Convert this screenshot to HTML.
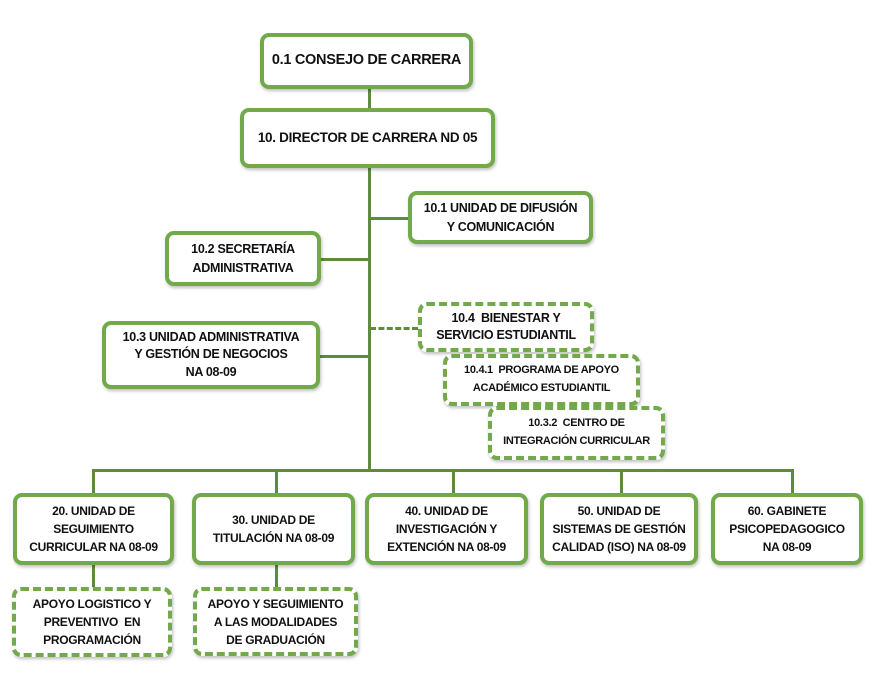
<!DOCTYPE html>
<html><head><meta charset="utf-8"><style>
body{margin:0;width:880px;height:677px;background:#fff;position:relative;overflow:hidden;font-family:"Liberation Sans",sans-serif;}
.b{position:absolute;box-sizing:border-box;border:4px solid #72a94a;border-radius:9px;background:#fff;display:flex;align-items:center;justify-content:center;text-align:center;font-weight:bold;color:#111;font-size:12px;line-height:1.5;letter-spacing:-0.3px;box-shadow:1px 2px 3px rgba(0,0,0,0.25);}
.d{border-style:dashed;}
.l{position:absolute;background:#5e8c3c;}
</style></head><body>
<div class="l" style="left:368px;top:89px;width:3px;height:382px"></div>
<div class="l" style="left:369px;top:217px;width:40px;height:3px"></div>
<div class="l" style="left:320px;top:258px;width:50px;height:3px"></div>
<div class="l" style="left:320px;top:355px;width:50px;height:3px"></div>
<div style="position:absolute;left:370px;top:327px;width:48px;border-top:3px dashed #5e8c3c"></div>
<div class="l" style="left:92px;top:469px;width:702px;height:3px"></div>
<div class="l" style="left:92px;top:469px;width:3px;height:25px"></div>
<div class="l" style="left:275px;top:469px;width:3px;height:25px"></div>
<div class="l" style="left:452px;top:469px;width:3px;height:25px"></div>
<div class="l" style="left:620px;top:469px;width:3px;height:25px"></div>
<div class="l" style="left:791px;top:469px;width:3px;height:25px"></div>
<div class="l" style="left:92px;top:564px;width:3px;height:24px"></div>
<div class="l" style="left:275px;top:564px;width:3px;height:24px"></div>
<div class="b" style="left:260px;top:33px;width:213px;height:56px;font-size:14.5px">0.1 CONSEJO DE CARRERA</div>
<div class="b" style="left:240px;top:108px;width:255px;height:60px;font-size:13.5px">10. DIRECTOR DE CARRERA ND 05</div>
<div class="b" style="left:408px;top:191px;width:185px;height:53px;font-size:12.5px">10.1 UNIDAD DE DIFUSIÓN<br>Y COMUNICACIÓN</div>
<div class="b" style="left:165px;top:231px;width:156px;height:55px;font-size:12.5px">10.2 SECRETARÍA<br>ADMINISTRATIVA</div>
<div class="b" style="left:102px;top:321px;width:218px;height:68px;font-size:12.5px;line-height:1.4">10.3 UNIDAD ADMINISTRATIVA<br>Y GESTIÓN DE NEGOCIOS<br>NA 08-09</div>
<div class="b d" style="left:418px;top:302px;width:176px;height:50px;font-size:12.5px;line-height:1.4">10.4&nbsp; BIENESTAR Y<br>SERVICIO ESTUDIANTIL</div>
<div class="b d" style="left:443px;top:354px;width:197px;height:52px;font-size:11px;line-height:1.6">10.4.1&nbsp; PROGRAMA DE APOYO<br>ACADÉMICO ESTUDIANTIL</div>
<div class="b d" style="left:488px;top:406px;width:177px;height:54px;font-size:11px;line-height:1.6">10.3.2&nbsp; CENTRO DE<br>INTEGRACIÓN CURRICULAR</div>
<div class="b" style="left:13px;top:493px;width:161px;height:72px">20. UNIDAD DE<br>SEGUIMIENTO<br>CURRICULAR NA 08-09</div>
<div class="b" style="left:192px;top:493px;width:163px;height:72px">30. UNIDAD DE<br>TITULACIÓN NA 08-09</div>
<div class="b" style="left:365px;top:493px;width:163px;height:72px">40. UNIDAD DE<br>INVESTIGACIÓN Y<br>EXTENCIÓN NA 08-09</div>
<div class="b" style="left:540px;top:493px;width:158px;height:72px">50. UNIDAD DE<br>SISTEMAS DE GESTIÓN<br>CALIDAD (ISO) NA 08-09</div>
<div class="b" style="left:711px;top:493px;width:152px;height:72px">60. GABINETE<br>PSICOPEDAGOGICO<br>NA 08-09</div>
<div class="b d" style="left:12px;top:587px;width:160px;height:70px">APOYO LOGISTICO Y<br>PREVENTIVO&nbsp; EN<br>PROGRAMACIÓN</div>
<div class="b d" style="left:193px;top:587px;width:165px;height:69px">APOYO Y SEGUIMIENTO<br>A LAS MODALIDADES<br>DE GRADUACIÓN</div>
</body></html>
